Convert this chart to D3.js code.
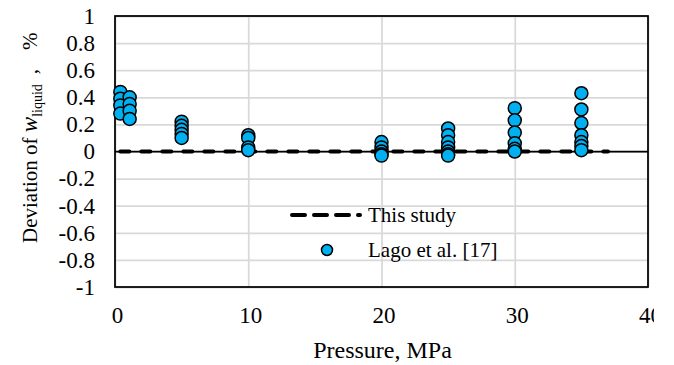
<!DOCTYPE html>
<html>
<head>
<meta charset="utf-8">
<script src="https://cdn.jsdelivr.net/npm/d3@7"></script>
<style>
  html, body { margin: 0; padding: 0; background: #fff; }
  svg text { font-family: "Liberation Serif", "Times New Roman", Times, serif !important; fill: #000; }
</style>
</head>
<body>
<svg id="chart" width="674" height="365"></svg>
<script>
// Pressure (MPa) for each Lago et al. measurement group
const lagoPressure = [0.4, 0.4, 0.4, 0.4,
                      1.1, 1.1, 1.1, 1.1,
                      5, 5, 5, 5, 5,
                      10, 10, 10, 10,
                      20, 20, 20, 20, 20,
                      25, 25, 25, 25, 25, 25, 25,
                      30, 30, 30, 30, 30, 30,
                      35, 35, 35, 35, 35, 35, 35];
// Deviation of w_liquid (%) for each point
const lagoDeviation = [0.44, 0.39, 0.34, 0.28,
                       0.40, 0.35, 0.30, 0.24,
                       0.22, 0.19, 0.16, 0.13, 0.10,
                       0.12, 0.10, 0.03, 0.01,
                       0.07, 0.03, 0.00, -0.02, -0.03,
                       0.17, 0.12, 0.07, 0.03, 0.00, -0.02, -0.03,
                       0.32, 0.23, 0.14, 0.06, 0.02, 0.00,
                       0.43, 0.31, 0.21, 0.12, 0.07, 0.04, 0.01];
// This study: zero deviation across the pressure range
const studyPressure = [0.4, 37];
const studyDeviation = [0, 0];

const xTicks = [0, 10, 20, 30, 40];
const yTicks = [-1, -0.8, -0.6, -0.4, -0.2, 0, 0.2, 0.4, 0.6, 0.8, 1];

const svg = d3.select("#chart");
const plot = { left: 115, right: 648, top: 16, bottom: 287 };

const x = d3.scaleLinear().domain([0, 40]).range([plot.left, plot.right]);
const y = d3.scaleLinear().domain([-1, 1]).range([plot.bottom, plot.top]);

// the chart area ends just past the plot frame, cutting the last x label
svg.append("clipPath").attr("id", "chart-clip")
  .append("rect").attr("x", 0).attr("y", 0).attr("width", 654).attr("height", 365);
const root = svg.append("g").attr("clip-path", "url(#chart-clip)");

// gridlines
root.append("g")
  .attr("transform", `translate(0,${plot.bottom})`)
  .call(d3.axisBottom(x).tickValues(xTicks).tickSize(-(plot.bottom - plot.top)).tickFormat(""))
  .call(g => g.select(".domain").remove())
  .call(g => g.selectAll("line").attr("stroke", "#d9d9d9").attr("stroke-width", 1.75));
root.append("g")
  .attr("transform", `translate(${plot.left},0)`)
  .call(d3.axisLeft(y).tickValues(yTicks).tickSize(-(plot.right - plot.left)).tickFormat(""))
  .call(g => g.select(".domain").remove())
  .call(g => g.selectAll("line").attr("stroke", "#d9d9d9").attr("stroke-width", 1.75));

// zero line
root.append("line")
  .attr("x1", plot.left).attr("x2", plot.right)
  .attr("y1", y(0)).attr("y2", y(0))
  .attr("stroke", "#000").attr("stroke-width", 1.75);

// plot frame
root.append("rect")
  .attr("x", plot.left).attr("y", plot.top)
  .attr("width", plot.right - plot.left).attr("height", plot.bottom - plot.top)
  .attr("fill", "none").attr("stroke", "#000").attr("stroke-width", 1.75);

// tick labels
const xAxis = root.append("g")
  .attr("transform", `translate(0,${plot.bottom})`)
  .call(d3.axisBottom(x).tickValues(xTicks).tickSize(0).tickPadding(20).tickFormat(d3.format("d")));
xAxis.select(".domain").remove();
xAxis.selectAll("text").style("font-size", "23px").attr("dx", 2);

const yAxis = root.append("g")
  .attr("transform", `translate(${plot.left},0)`)
  .call(d3.axisLeft(y).tickValues(yTicks).tickSize(0).tickPadding(20).tickFormat(d => String(+d.toFixed(1))));
yAxis.select(".domain").remove();
yAxis.selectAll("text").style("font-size", "23px");

// this study (dashed)
const line = d3.line().x(d => x(d[0])).y(d => y(d[1]));
root.append("path")
  .datum(d3.zip(studyPressure, studyDeviation))
  .attr("d", line)
  .attr("fill", "none").attr("stroke", "#000")
  .attr("stroke-width", 4).attr("stroke-linecap", "round")
  .attr("stroke-dasharray", "9 12");

// Lago et al. points
root.append("g").selectAll("circle")
  .data(d3.zip(lagoPressure, lagoDeviation))
  .join("circle")
  .attr("cx", d => x(d[0])).attr("cy", d => y(d[1]))
  .attr("r", 6.5)
  .attr("fill", "#00b0f0").attr("stroke", "#000").attr("stroke-width", 1.5);

// legend
const lg = root.append("g");
lg.append("line")
  .attr("x1", 292).attr("x2", 360).attr("y1", 215).attr("y2", 215)
  .attr("stroke", "#000").attr("stroke-width", 4)
  .attr("stroke-linecap", "round").attr("stroke-dasharray", "13 9");
lg.append("text").attr("x", 368).attr("y", 222).style("font-size", "21px").text("This study");
lg.append("circle").attr("cx", 327).attr("cy", 250).attr("r", 5.5)
  .attr("fill", "#00b0f0").attr("stroke", "#000").attr("stroke-width", 1.5);
lg.append("text").attr("x", 368).attr("y", 257).style("font-size", "21px").text("Lago et al. [17]");

// axis titles
root.append("text")
  .attr("x", x(20) + 1).attr("y", 358)
  .attr("text-anchor", "middle").style("font-size", "24px")
  .text("Pressure, MPa");

const yt = root.append("text")
  .attr("transform", "translate(37,243) rotate(-90)")
  .attr("text-anchor", "start").style("font-size", "21px");
yt.append("tspan").text("Deviation of ");
yt.append("tspan").attr("font-style", "italic").style("font-size", "23px").text("w");
yt.append("tspan").style("font-size", "14px").attr("dy", 5).text("liquid");
yt.append("tspan").attr("dy", -5).attr("dx", 10).text(",");
yt.append("tspan").attr("dx", 19).text("%");
</script>
</body>
</html>
